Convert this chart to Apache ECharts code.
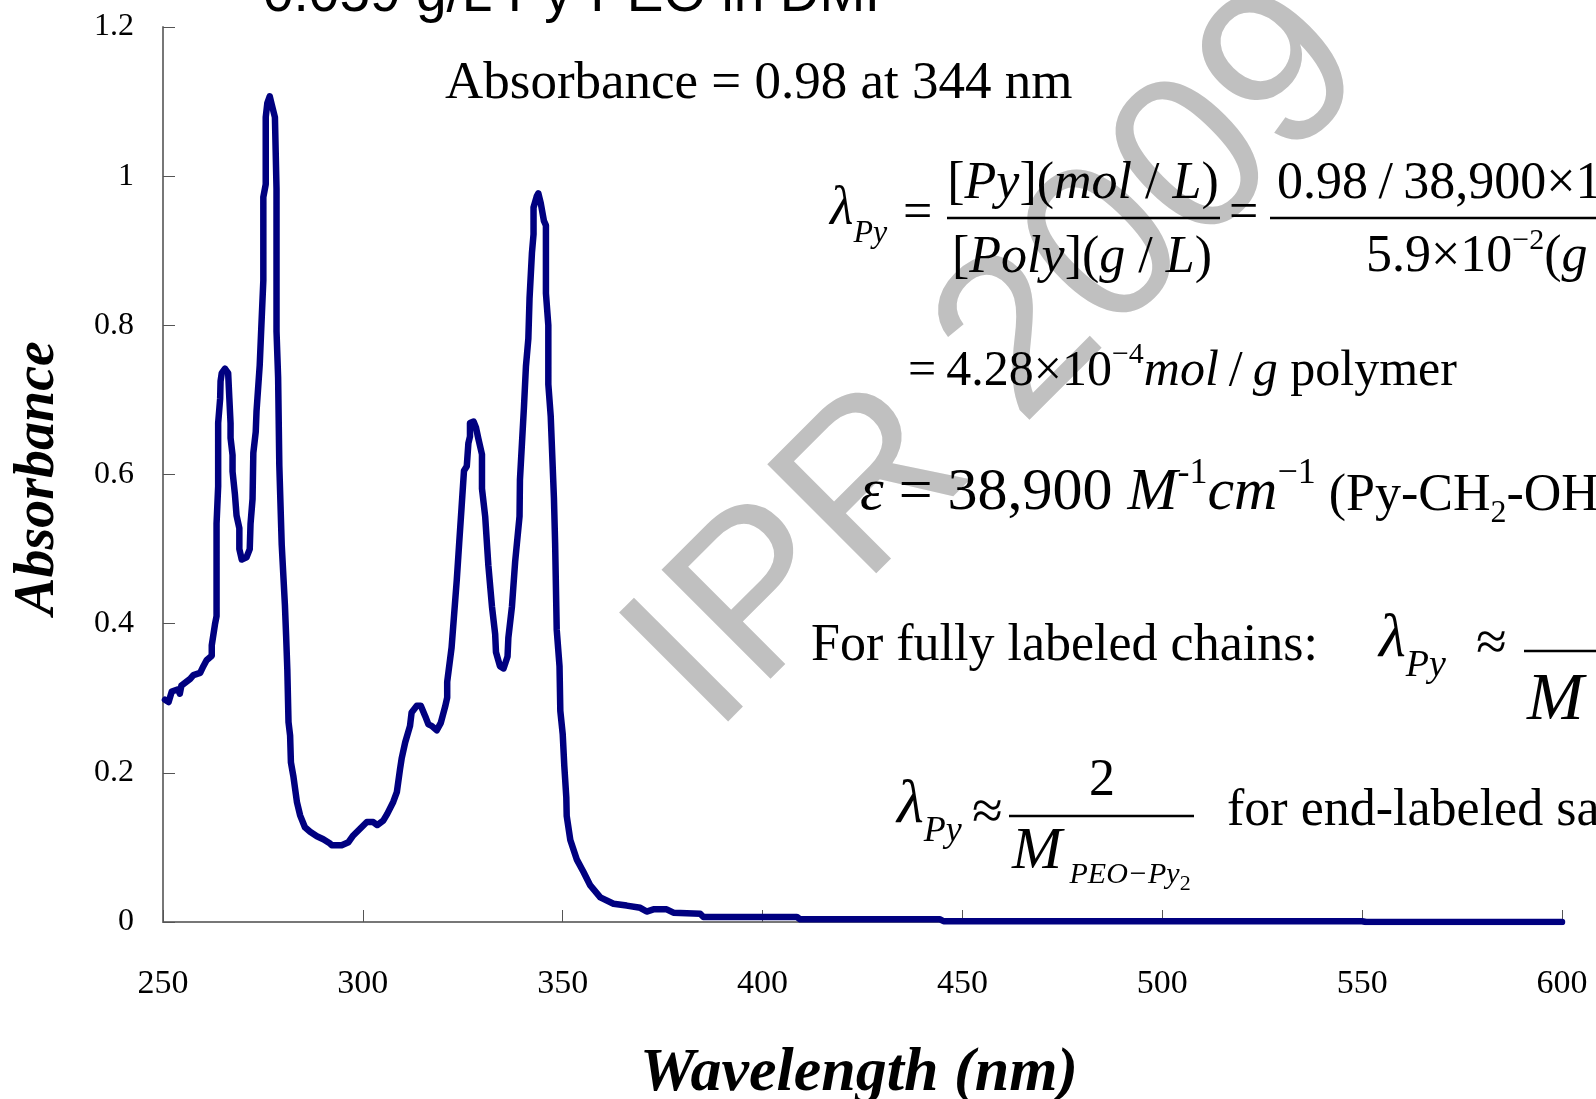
<!DOCTYPE html>
<html><head><meta charset="utf-8">
<script src="https://cdn.jsdelivr.net/npm/echarts@6/dist/echarts.min.js"></script>
<style>html,body{margin:0;padding:0;background:#fff}#c{width:1596px;height:1099px}</style>
</head><body><div id="c"></div>
<script>
// ---------------- data ----------------
const wavelength = [
  250.5,251.4,252.2,253.8,254.2,254.6,256.8,257.6,259.3,260.1,260.9,262.2,262.2,263.0,263.4,263.4,263.8,263.8,264.3,264.4,
  264.7,265.5,266.3,266.6,266.9,266.9,267.4,267.4,268.0,268.4,269.1,269.1,269.7,270.9,271.7,271.9,272.4,272.6,273.2,273.4,
  274.2,274.6,275.1,275.1,275.7,275.7,276.1,276.7,277.2,278.0,278.4,278.4,278.8,279.1,279.7,280.5,280.8,281.1,281.4,281.8,
  282.0,282.6,283.5,284.3,285.5,286.8,288.5,290.1,291.6,292.2,294.7,296.4,297.6,299.3,301.0,302.6,303.6,305.1,306.1,307.6,
  308.5,309.3,309.7,310.6,311.8,312.2,313.5,314.5,315.6,316.4,317.2,318.5,319.5,320.6,321.1,321.1,322.2,323.5,324.1,324.7,
  325.3,326.0,326.4,326.8,326.8,327.7,328.3,328.9,329.8,329.8,330.6,331.4,332.3,333.1,333.3,334.3,335.2,336.2,336.4,337.3,
  338.1,339.2,339.3,340.3,340.8,341.4,341.7,342.3,342.7,342.7,343.5,343.9,344.5,345.3,345.8,345.8,346.4,346.4,347.0,347.8,
  348.1,348.5,349.2,349.4,350.0,350.4,350.9,351.0,351.9,353.5,355.2,356.9,359.4,362.7,366.0,369.4,371.0,372.7,376.0,377.7,
  384.4,385.2,408.6,409.4,444.4,445.3,550.0,551.0,600.0
];
const absorbance = [
  0.298,0.295,0.309,0.312,0.306,0.317,0.326,0.331,0.334,0.343,0.351,0.357,0.371,0.399,0.410,0.534,0.584,0.669,0.702,0.725,
  0.736,0.742,0.736,0.702,0.669,0.649,0.626,0.604,0.573,0.545,0.528,0.500,0.486,0.489,0.500,0.534,0.567,0.629,0.657,0.685,
  0.747,0.798,0.860,0.972,0.989,1.079,1.098,1.107,1.096,1.079,0.983,0.792,0.730,0.612,0.506,0.425,0.384,0.339,0.268,0.250,
  0.214,0.196,0.161,0.143,0.127,0.121,0.115,0.111,0.106,0.103,0.103,0.107,0.116,0.125,0.134,0.134,0.130,0.136,0.145,0.161,
  0.174,0.205,0.219,0.241,0.263,0.281,0.290,0.290,0.276,0.265,0.263,0.257,0.267,0.289,0.301,0.322,0.368,0.459,0.508,0.556,
  0.605,0.611,0.642,0.651,0.669,0.671,0.663,0.648,0.627,0.581,0.544,0.478,0.423,0.386,0.362,0.343,0.340,0.356,0.381,0.423,
  0.483,0.544,0.593,0.690,0.745,0.782,0.836,0.897,0.922,0.958,0.973,0.977,0.964,0.940,0.934,0.843,0.800,0.721,0.678,0.569,
  0.508,0.392,0.343,0.283,0.252,0.209,0.167,0.142,0.110,0.084,0.067,0.049,0.033,0.0245,0.022,0.019,0.014,0.017,0.017,0.0125,
  0.011,0.0067,0.0067,0.0036,0.0036,0.001,0.001,0.0,0.0
];
const xMin = 250, xMax = 600, xStep = 50;
const yMin = 0, yMax = 1.2, yStep = 0.2;
const titleText = '0.059 g/L Py-PEO in DMF';
const xAxisTitle = 'Wavelength (nm)';
const yAxisTitle = 'Absorbance';
const watermarkText = 'IPR 2009';

// ---------------- text layout helpers ----------------
const SERIF = '"Liberation Serif","Times New Roman",serif';
const SANS = '"Liberation Sans",Arial,sans-serif';
const mctx = document.createElement('canvas').getContext('2d');
function fontOf(r){ return (r.i?'italic ':'') + (r.b?'bold ':'') + r.s + 'px ' + (r.f||SERIF); }
const graphics = [];
function runs(x, base, list, align){
  let w = 0;
  list.forEach(r => { mctx.font = fontOf(r); r.w = mctx.measureText(r.t).width; w += r.w; });
  let cx = align === 'center' ? x - w/2 : x;
  list.forEach(r => {
    const b = base + (r.dy||0);
    graphics.push({type:'text', silent:true, z:20, x:cx, y:b - 0.34*r.s,
      style:{text:r.t, font:fontOf(r), fill:'#000', align:'left', verticalAlign:'middle'}});
    cx += r.w;
  });
}
function hline(x1, x2, y){
  graphics.push({type:'line', silent:true, z:20, shape:{x1:x1,y1:y,x2:x2,y2:y}, style:{stroke:'#000', lineWidth:2.5}});
}
const R = (t,s,o) => Object.assign({t:t,s:s}, o||{});
const TS = '\u2009/\u2009';

// title (mostly above the canvas)
runs(263, 15, [R(titleText,55,{f:SANS})]);
// annotation
runs(445, 102, [R('Absorbance = 0.98 at 344 nm',53)]);
// row 1
runs(830, 228, [R('λ',54,{i:1}), R('Py',32,{i:1,dy:16})]);
runs(903, 232, [R('=',52)]);
runs(1083, 202, [R('[',52),R('Py',52,{i:1}),R('](',52),R('mol',52,{i:1}),R(' / ',52),R('L',52,{i:1}),R(')',52)], 'center');
hline(947, 1220, 218);
runs(1082, 276, [R('[',52),R('Poly',52,{i:1}),R('](',52),R('g',52,{i:1}),R(' / ',52),R('L',52,{i:1}),R(')',52)], 'center');
runs(1229, 232, [R('=',52)]);
runs(1277, 202, [R('0.98'+TS+'38,900×10',52)]);
hline(1270, 1600, 218);
runs(1366, 275, [R('5.9×10',52),R('−2',30,{dy:-24}),R('(',52),R('g',52,{i:1}),R(TS,52),R('L',52,{i:1}),R(')',52)]);
// row 2
runs(908, 389, [R('=\u20094.28×10',50),R('−4',30,{dy:-24}),R('mol',50,{i:1}),R(TS,50),R('g',50,{i:1}),R(' polymer',50)]);
// row 3
runs(860, 514, [R('ε',60,{i:1}),R(' = 38,900 ',60),R('M',60,{i:1}),R('-1',36,{dy:-28}),R('cm',60,{i:1}),R('−1',36,{dy:-28}),
  R(' (Py-CH',52),R('2',32,{dy:10}),R('-OH)',52)]);
// row 4
runs(811, 664, [R('For fully labeled chains:',52)]);
runs(1379, 661, [R('λ',62,{i:1}), R('Py',38,{i:1,dy:18})]);
runs(1476, 664, [R('≈',56)]);
hline(1524, 1600, 651);
runs(1527, 724, [R('M',68,{i:1})]);
// row 5
runs(897, 827, [R('λ',62,{i:1}), R('Py',36,{i:1,dy:17})]);
runs(972, 833, [R('≈',56)]);
hline(1009, 1194, 816);
runs(1102, 799, [R('2',52)], 'center');
runs(1012, 873, [R('M',60,{i:1}),R(' PEO−Py',30,{i:1,dy:12}),R('2',22,{dy:19})]);
runs(1227, 829, [R('for end-labeled samples',52)]);

// axis titles
graphics.push({type:'text', silent:true, z:20, x:39, y:478, rotation:Math.PI/2,
  style:{text:yAxisTitle, font:'italic bold 56px '+SERIF, fill:'#000', align:'center', verticalAlign:'middle'}});
graphics.push({type:'text', silent:true, z:20, x:859, y:1095-0.34*62,
  style:{text:xAxisTitle, font:'italic bold 62px '+SERIF, fill:'#000', align:'center', verticalAlign:'middle'}});
// watermark
graphics.push({type:'text', silent:true, z:1, x:1000, y:362, rotation:Math.PI/4,
  style:{text:watermarkText, font:'224px '+SANS, fill:'#c0c0c0', align:'center', verticalAlign:'middle'}});

// ---------------- chart ----------------
const chart = echarts.init(document.getElementById('c'), null, {renderer:'canvas'});
chart.setOption({
  animation:false,
  backgroundColor:'#fff',
  grid:{left:163, right:34, top:27, bottom:177, containLabel:false},
  xAxis:{type:'value', min:xMin, max:xMax, interval:xStep,
    axisLine:{show:true, onZero:false, lineStyle:{color:'#777', width:2}},
    axisTick:{show:true, inside:true, length:12, lineStyle:{color:'#555', width:1}},
    axisLabel:{color:'#000', fontFamily:SERIF, fontSize:34, margin:45},
    splitLine:{show:false}},
  yAxis:{type:'value', min:yMin, max:yMax, interval:yStep,
    axisLine:{show:true, lineStyle:{color:'#777', width:2}},
    axisTick:{show:true, inside:true, length:12, lineStyle:{color:'#555', width:1}},
    axisLabel:{color:'#000', fontFamily:SERIF, fontSize:32, margin:29},
    splitLine:{show:false}},
  series:[{type:'line', z:5, showSymbol:false, smooth:false,
    data: wavelength.map((w,i)=>[w, absorbance[i]]),
    lineStyle:{color:'#000080', width:6.5, join:'round', cap:'round'}}],
  graphic: graphics
});
</script></body></html>
